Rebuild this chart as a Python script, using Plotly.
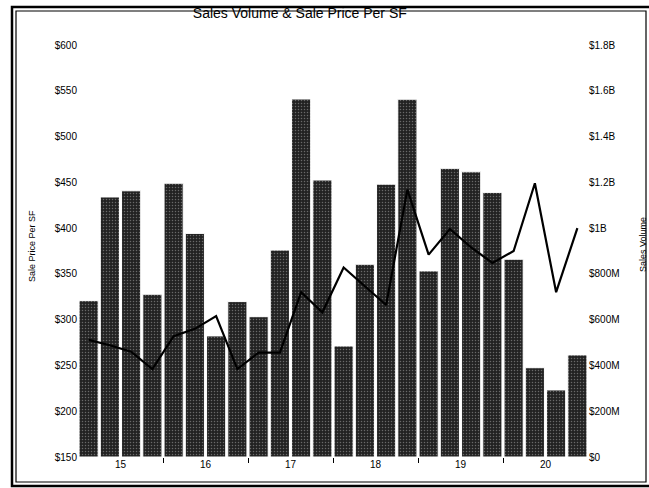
import plotly.graph_objects as go

quarters = [f"{y}Q{q}" for y in range(15, 21) for q in range(1, 5)]
year_labels = ["15", "16", "17", "18", "19", "20"]
volume_b = [0.683, 1.136, 1.163, 0.711, 1.196, 0.977, 0.529, 0.679,
            0.613, 0.904, 1.564, 1.210, 0.485, 0.842, 1.192, 1.563,
            0.813, 1.261, 1.246, 1.156, 0.864, 0.390, 0.293, 0.446]
price_psf = [278, 272, 265, 246, 282, 290, 304, 246,
             264, 264, 330, 308, 357, 337, 316, 442,
             371, 399, 379, 362, 375, 449, 330, 400]
vol_ticks = [0, 0.2, 0.4, 0.6, 0.8, 1.0, 1.2, 1.4, 1.6, 1.8]
vol_tick_text = ["$0", "$200M", "$400M", "$600M", "$800M", "$1B", "$1.2B", "$1.4B", "$1.6B", "$1.8B"]
price_ticks = [150, 200, 250, 300, 350, 400, 450, 500, 550, 600]
price_tick_text = [f"${v}" for v in price_ticks]

x = list(range(len(quarters)))
year_centers = [4 * i + 1.5 for i in range(len(year_labels))]
year_bounds = [4 * i - 0.5 for i in range(1, len(year_labels))]

FONT = "Liberation Sans, Arial, sans-serif"

fig = go.Figure()
fig.add_trace(go.Bar(
    x=x, y=[v * 1e9 for v in volume_b], yaxis="y",
    marker=dict(color="#2a2a2a", line=dict(color="white", width=1),
                pattern=dict(shape=".", fgcolor="#b0b0b0", bgcolor="#222222",
                             size=3, solidity=0.2)),
    showlegend=False, name="Sales Volume",
))
fig.add_trace(go.Scatter(
    x=x, y=price_psf, yaxis="y2", mode="lines",
    line=dict(color="black", width=2.2), showlegend=False, name="Sale Price Per SF",
))

fig.update_layout(
    width=649, height=488,
    margin=dict(l=78, r=61, t=45, b=31),
    paper_bgcolor="white", plot_bgcolor="white",
    bargap=0.1,
    font=dict(family=FONT, color="black", size=10),
    title=dict(text="Sales Volume & Sale Price Per SF", x=0.462, xanchor="center",
               y=0.974, yanchor="middle", font=dict(size=14, family=FONT, color="black")),
    xaxis=dict(range=[-0.5, len(quarters) - 0.5], tickmode="array",
               tickvals=year_centers, ticktext=year_labels, ticks="",
               showgrid=False, zeroline=False, showline=False,
               tickfont=dict(size=10, color="black"),
               minor=dict(tickvals=year_bounds, ticks="outside", ticklen=5,
                          tickcolor="black", tickwidth=1, showgrid=False)),
    yaxis=dict(side="right", range=[0, 1.8e9], tickmode="array",
               tickvals=[v * 1e9 for v in vol_ticks], ticktext=vol_tick_text,
               showgrid=False, zeroline=False, showline=False, ticks="",
               tickfont=dict(size=10, color="black")),
    yaxis2=dict(side="left", overlaying="y", range=[150, 600], tickmode="array",
                tickvals=price_ticks, ticktext=price_tick_text,
                showgrid=False, zeroline=False, showline=False, ticks="",
                tickfont=dict(size=10, color="black")),
)

fig.add_annotation(text="Sale Price Per SF", xref="paper", yref="paper",
                   x=(32 - 78) / 510, y=(457 - 246) / 412, textangle=-90,
                   showarrow=False, font=dict(size=9, family=FONT, color="black"),
                   xanchor="center", yanchor="middle")
fig.add_annotation(text="Sales Volume", xref="paper", yref="paper",
                   x=(643 - 78) / 510, y=(457 - 245) / 412, textangle=-90,
                   showarrow=False, font=dict(size=9, family=FONT, color="black"),
                   xanchor="center", yanchor="middle")

# double frame around the chart
def px_x(p):
    return (p - 78) / 510

def px_y(p):
    return (457 - p) / 412

fig.add_shape(type="rect", xref="paper", yref="paper",
              x0=px_x(12), x1=px_x(652), y0=px_y(486), y1=px_y(7),
              line=dict(color="black", width=2.5))
fig.add_shape(type="rect", xref="paper", yref="paper",
              x0=px_x(16), x1=px_x(646), y0=px_y(482), y1=px_y(11),
              line=dict(color="black", width=1.2))

fig.write_html("out.html")
